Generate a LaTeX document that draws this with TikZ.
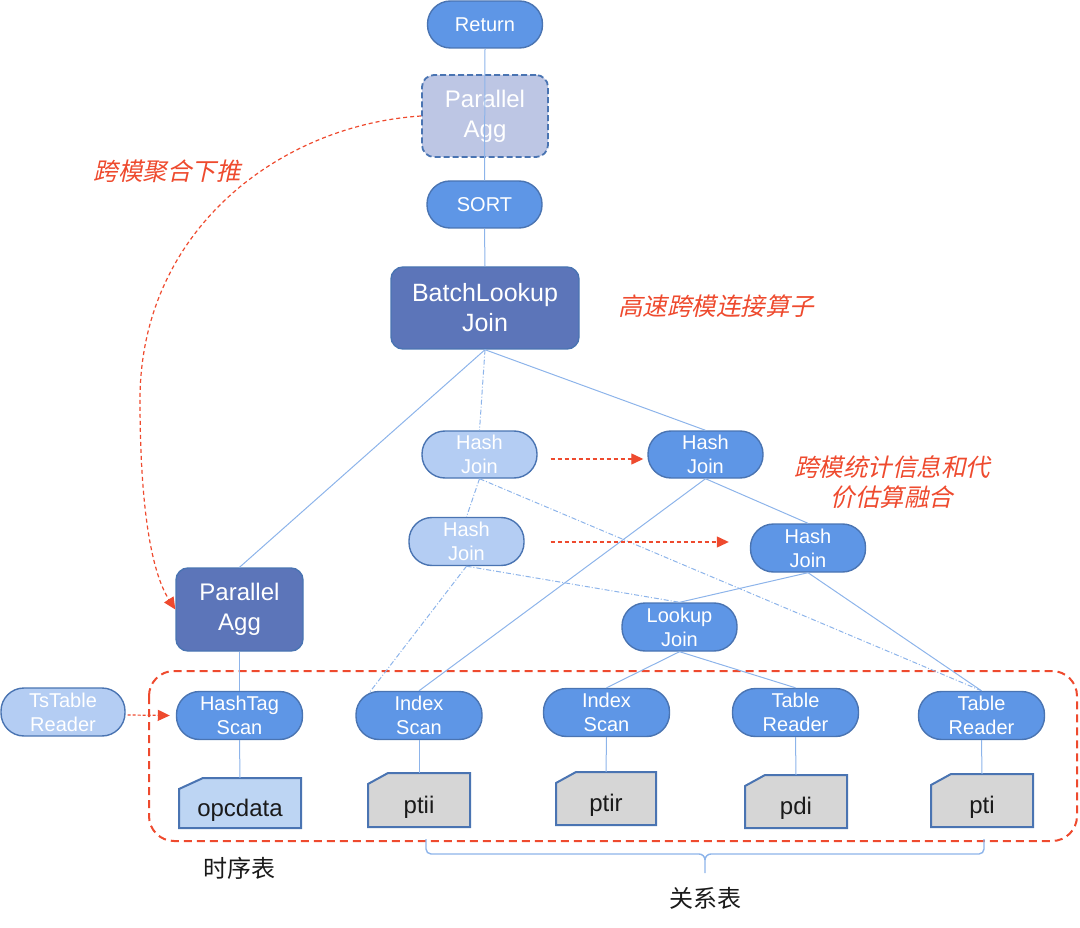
\documentclass[tikz,border=0pt]{standalone}
\usepackage{fontspec}
\setmainfont{Liberation Sans}
\newfontfamily\cjk{Noto Sans CJK SC}
\newfontfamily\cjkit[FakeSlant=0.22]{Noto Sans CJK SC}
\usetikzlibrary{arrows.meta,calc}

\definecolor{nodeblue}{HTML}{5E96E6}
\definecolor{nodedark}{HTML}{5C75B9}
\definecolor{nodelight}{HTML}{B4CDF3}
\definecolor{nodeghost}{HTML}{BDC6E4}
\definecolor{bord}{HTML}{4A74B2}
\definecolor{edgeblue}{HTML}{8DB4EA}
\definecolor{redc}{HTML}{EE4A2E}
\definecolor{tblblue}{HTML}{BDD5F3}
\definecolor{tblgray}{HTML}{D6D6D6}
\definecolor{txtblack}{HTML}{1A1A1A}

% #1 name, #2 cx, #3 cy, #4 w, #5 h, #6 fill, #7 chamfer width, #8 text
\newcommand\tablebox[8]{%
  \path[draw=bord,line width=2pt,fill=#6]
    ({#2-#4/2},{#3+#5/2}) -- ({#2-#4/2},{#3-#5/2+11}) -- ({#2-#4/2+#7},{#3-#5/2})
    -- ({#2+#4/2},{#3-#5/2}) -- ({#2+#4/2},{#3+#5/2}) -- cycle;
  \node[tbltext, minimum width=#4pt, minimum height=#5pt] (#1) at (#2,#3) {#8};
}

\begin{document}
\begin{tikzpicture}[x=1pt,y=-1pt,
  base/.style={draw=bord, line width=1.4pt, inner sep=0pt, align=center, text=white},
  pill/.style={base, fill=nodeblue, rounded corners=23pt, minimum width=115pt, minimum height=47pt,
               font=\fontsize{20}{24}\selectfont},
  pilllight/.style={pill, fill=nodelight},
  opbox/.style={base, fill=nodedark, rounded corners=12pt, minimum width=127pt, minimum height=83pt,
               font=\fontsize{24}{30}\selectfont},
  ghostbox/.style={opbox, fill=nodeghost, line width=1.8pt, dash pattern=on 6pt off 3pt},
  tbltext/.style={inner sep=0pt, text=txtblack, font=\fontsize{24}{24}\selectfont,
               text height=27pt, text depth=1pt},
  edge/.style={draw=edgeblue, line width=1pt},
  dashdot/.style={edge, dash pattern=on 5pt off 2pt on 1pt off 2pt},
  redarrow/.style={draw=redc, line width=1.2pt, dash pattern=on 4pt off 3pt,
               -{Triangle[length=12pt,width=11pt]}},
  redtext/.style={text=redc, font=\cjkit\fontsize{24.5}{30}\selectfont, inner sep=0pt, align=center},
  blacktext/.style={text=txtblack, font=\cjk\fontsize{24}{24}\selectfont, inner sep=0pt},
  bracestyle/.style={draw=edgeblue, line width=1.4pt}
]
\useasboundingbox (0,0) rectangle (1080,928);

% group frame
\draw[redc, line width=2pt, dash pattern=on 8pt off 5pt, rounded corners=25pt]
  (149,671) rectangle (1077,841);

% operator nodes
\node[pill] (ret) at (485,24.5) {Return};
\node[ghostbox, minimum width=126pt, minimum height=82pt] (pagg1) at (485,116) {Parallel\\Agg};
\node[pill] (sort) at (484.5,204.5) {SORT};
\node[opbox, minimum width=188pt, minimum height=82pt, font=\fontsize{25}{30}\selectfont] (bl) at (485,308) {BatchLookup\\Join};
\node[pilllight] (hj1) at (479.5,454.5) {Hash\\Join};
\node[pill] (hj2) at (705.5,454.5) {Hash\\Join};
\node[pilllight, minimum height=48pt] (hj3) at (466.5,541.5) {Hash\\Join};
\node[pill, minimum height=48pt] (hj4) at (808,548) {Hash\\Join};
\node[pill, minimum height=48pt] (lj) at (679.5,627) {Lookup\\Join};
\node[opbox] (pagg2) at (239.5,609.5) {Parallel\\Agg};
\node[pilllight, minimum width=124pt, minimum height=48pt] (ts) at (63,712) {TsTable\\Reader};
\node[pill, minimum width=126pt, minimum height=48pt] (hts) at (239.5,715.5) {HashTag\\Scan};
\node[pill, minimum width=126pt, minimum height=48pt] (is1) at (419,715.5) {Index\\Scan};
\node[pill, minimum width=126pt, minimum height=48pt] (is2) at (606.5,712.5) {Index\\Scan};
\node[pill, minimum width=126pt, minimum height=48pt] (tr1) at (795.5,712.5) {Table\\Reader};
\node[pill, minimum width=126pt, minimum height=48pt] (tr2) at (981.5,715.5) {Table\\Reader};

% tables
\tablebox{opc}{240}{803}{122}{50}{tblblue}{24}{opcdata}
\tablebox{ptii}{419}{800}{102}{54}{tblgray}{20}{ptii}
\tablebox{ptir}{606}{798.5}{100}{53}{tblgray}{20}{ptir}
\tablebox{pdi}{796}{801.5}{102}{53}{tblgray}{20}{pdi}
\tablebox{pti}{982}{800.5}{102}{53}{tblgray}{20}{pti}

% plan edges
\draw[edge] (ret.south) -- (sort.north);
\draw[edge] (sort.south) -- (bl.north);
\draw[edge] (bl.south) -- (pagg2.north);
\draw[edge] (bl.south) -- (hj2.north);
\draw[dashdot] (bl.south) -- (hj1.north);
\draw[dashdot] (hj1.south) -- (hj3.north);
\draw[dashdot] (hj1.south) -- (tr2.north);
\draw[dashdot] (hj3.south) -- (lj.north);
\draw[dashdot] (hj3.south) -- ($(is1.north)+(-49,1)$);
\draw[edge] (hj2.south) -- (is1.north);
\draw[edge] (hj2.south) -- (hj4.north);
\draw[edge] (hj4.south) -- (lj.north);
\draw[edge] (hj4.south) -- (tr2.north);
\draw[edge] (lj.south) -- (is2.north);
\draw[edge] (lj.south) -- (tr1.north);
\draw[edge] (pagg2.south) -- (hts.north);
\draw[edge] (hts.south) -- (opc.north);
\draw[edge] (is1.south) -- (ptii.north);
\draw[edge] (is2.south) -- (ptir.north);
\draw[edge] (tr1.south) -- (pdi.north);
\draw[edge] (tr2.south) -- (pti.north);

% red optimisation arrows
\draw[redarrow] ($(hj1.east)+(13,4.5)$) -- ($(hj2.west)+(-4,4.5)$);
\draw[redarrow] ($(hj3.east)+(26,0.5)$) -- ($(hj4.west)+(-21,-6)$);
\draw[redarrow, dash pattern=on 3pt off 2pt] ($(ts.east)+(2,3)$) -- ($(hts.west)+(-6,0)$);
\draw[redarrow] (pagg1.west) .. controls (280,125) and (140,230) .. (140,400)
  .. controls (140,500) and (150,570) .. (pagg2.west);

% brace under relational tables
\coordinate (bl1) at (426,839);
\coordinate (br1) at (984,839);
\coordinate (btip) at (705,873);
\draw[bracestyle] (bl1) -- (426,849) to[out=-90,in=180] (431,854) -- (699,854)
  to[out=0,in=90] (705,860) -- (btip);
\draw[bracestyle] (br1) -- (984,849) to[out=-90,in=0] (979,854) -- (711,854)
  to[out=180,in=90] (705,860);

% labels
\node[blacktext] (lts) at (239,868) {时序表};
\node[blacktext] (lrel) at (705,898) {关系表};
\node[redtext] (t1) at (167,171) {跨模聚合下推};
\node[redtext] (t2) at (716,306) {高速跨模连接算子};
\node[redtext] (t3) at (892,482) {跨模统计信息和代\\价估算融合};
\end{tikzpicture}
\end{document}
